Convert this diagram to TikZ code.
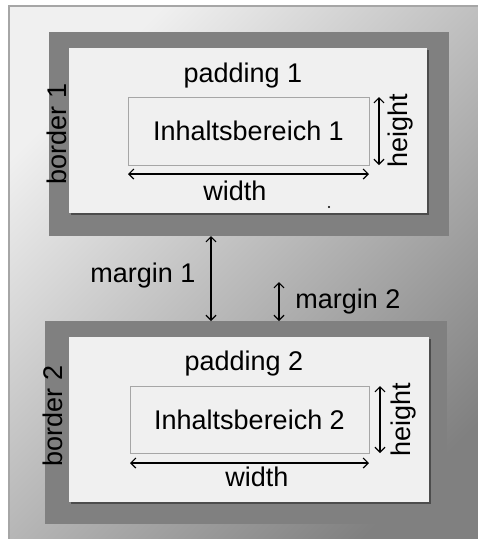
\documentclass[tikz,border=0pt]{standalone}
\usepackage{fontspec}
\setmainfont{Liberation Sans}
\usetikzlibrary{arrows.meta,shadows}

\begin{document}
\begin{tikzpicture}[
  x=1pt, y=-1pt,
  font=\fontsize{27}{32}\selectfont,
  every node/.style={inner sep=0pt, outer sep=0pt},
BorderBox/.style={fill=black!50, anchor=north west},
PadBox/.style={fill=black!6, anchor=north west,
               drop shadow={shadow xshift=2pt, shadow yshift=-2pt,
                            fill=black, opacity=.4}},
ContentBox/.style={draw=black!35, line width=1pt, fill=black!6,
                   anchor=north west},
DimArrow/.style={{Straight Barb[length=5pt,width=10pt]}-{Straight Barb[length=5pt,width=10pt]},
                 line width=1.2pt},
  ]
\useasboundingbox (0,0) rectangle (478,539);
\shade [top color=black!6, bottom color=black!50, shading angle=45]
  (9,6) rectangle (500,560);
\draw [black!35, line width=1.5pt] (9,560) -- (9,6) -- (500,6);

% box 1
\node [BorderBox, minimum width=400pt, minimum height=204pt] (b1) at (49,32) {};
\node [PadBox, minimum width=358pt, minimum height=165pt] (p1) at (69,48) {};
\node [ContentBox, minimum width=241pt, minimum height=68pt] (c1) at (128,97)
  {Inhaltsbereich 1};
\node [anchor=base] (pad1) at (243,82) {padding 1};
\node [rotate=90] (bo1) at (57,134) {border 1};
\node (w1) at (235,191) {width};
\node [rotate=90] (h1) at (401,131) {height};
\draw [DimArrow] ([yshift=-9pt]c1.south west) -- ([yshift=-9pt]c1.south east);
\draw [DimArrow] ([xshift=10pt]c1.north east) -- ([xshift=10pt]c1.south east);
\fill (329,207) circle (1.1pt);

% box 2
\node [BorderBox, minimum width=402pt, minimum height=203pt] (b2) at (45,321) {};
\node [PadBox, minimum width=360pt, minimum height=165pt] (p2) at (69,337) {};
\node [ContentBox, minimum width=239pt, minimum height=67pt] (c2) at (130,386)
  {Inhaltsbereich 2};
\node [anchor=base] (pad2) at (244,370) {padding 2};
\node [rotate=90] (bo2) at (53,416) {border 2};
\node (w2) at (257,477) {width};
\node [rotate=90] (h2) at (404,420) {height};
\draw [DimArrow] ([yshift=-10pt]c2.south west) -- ([yshift=-10pt]c2.south east);
\draw [DimArrow] ([xshift=11pt]c2.north east) -- ([xshift=11pt]c2.south east);

% margins
\coordinate (m1) at (211,0);
\draw [DimArrow] (b1.south -| m1) -- (b2.north -| m1);
\node [anchor=base] (mg1) at (143,282) {margin 1};
\coordinate (m2) at (279,282);
\draw [DimArrow] (m2) -- (b2.north -| m2);
\node [anchor=base] (mg2) at (348,308) {margin 2};
\end{tikzpicture}
\end{document}
